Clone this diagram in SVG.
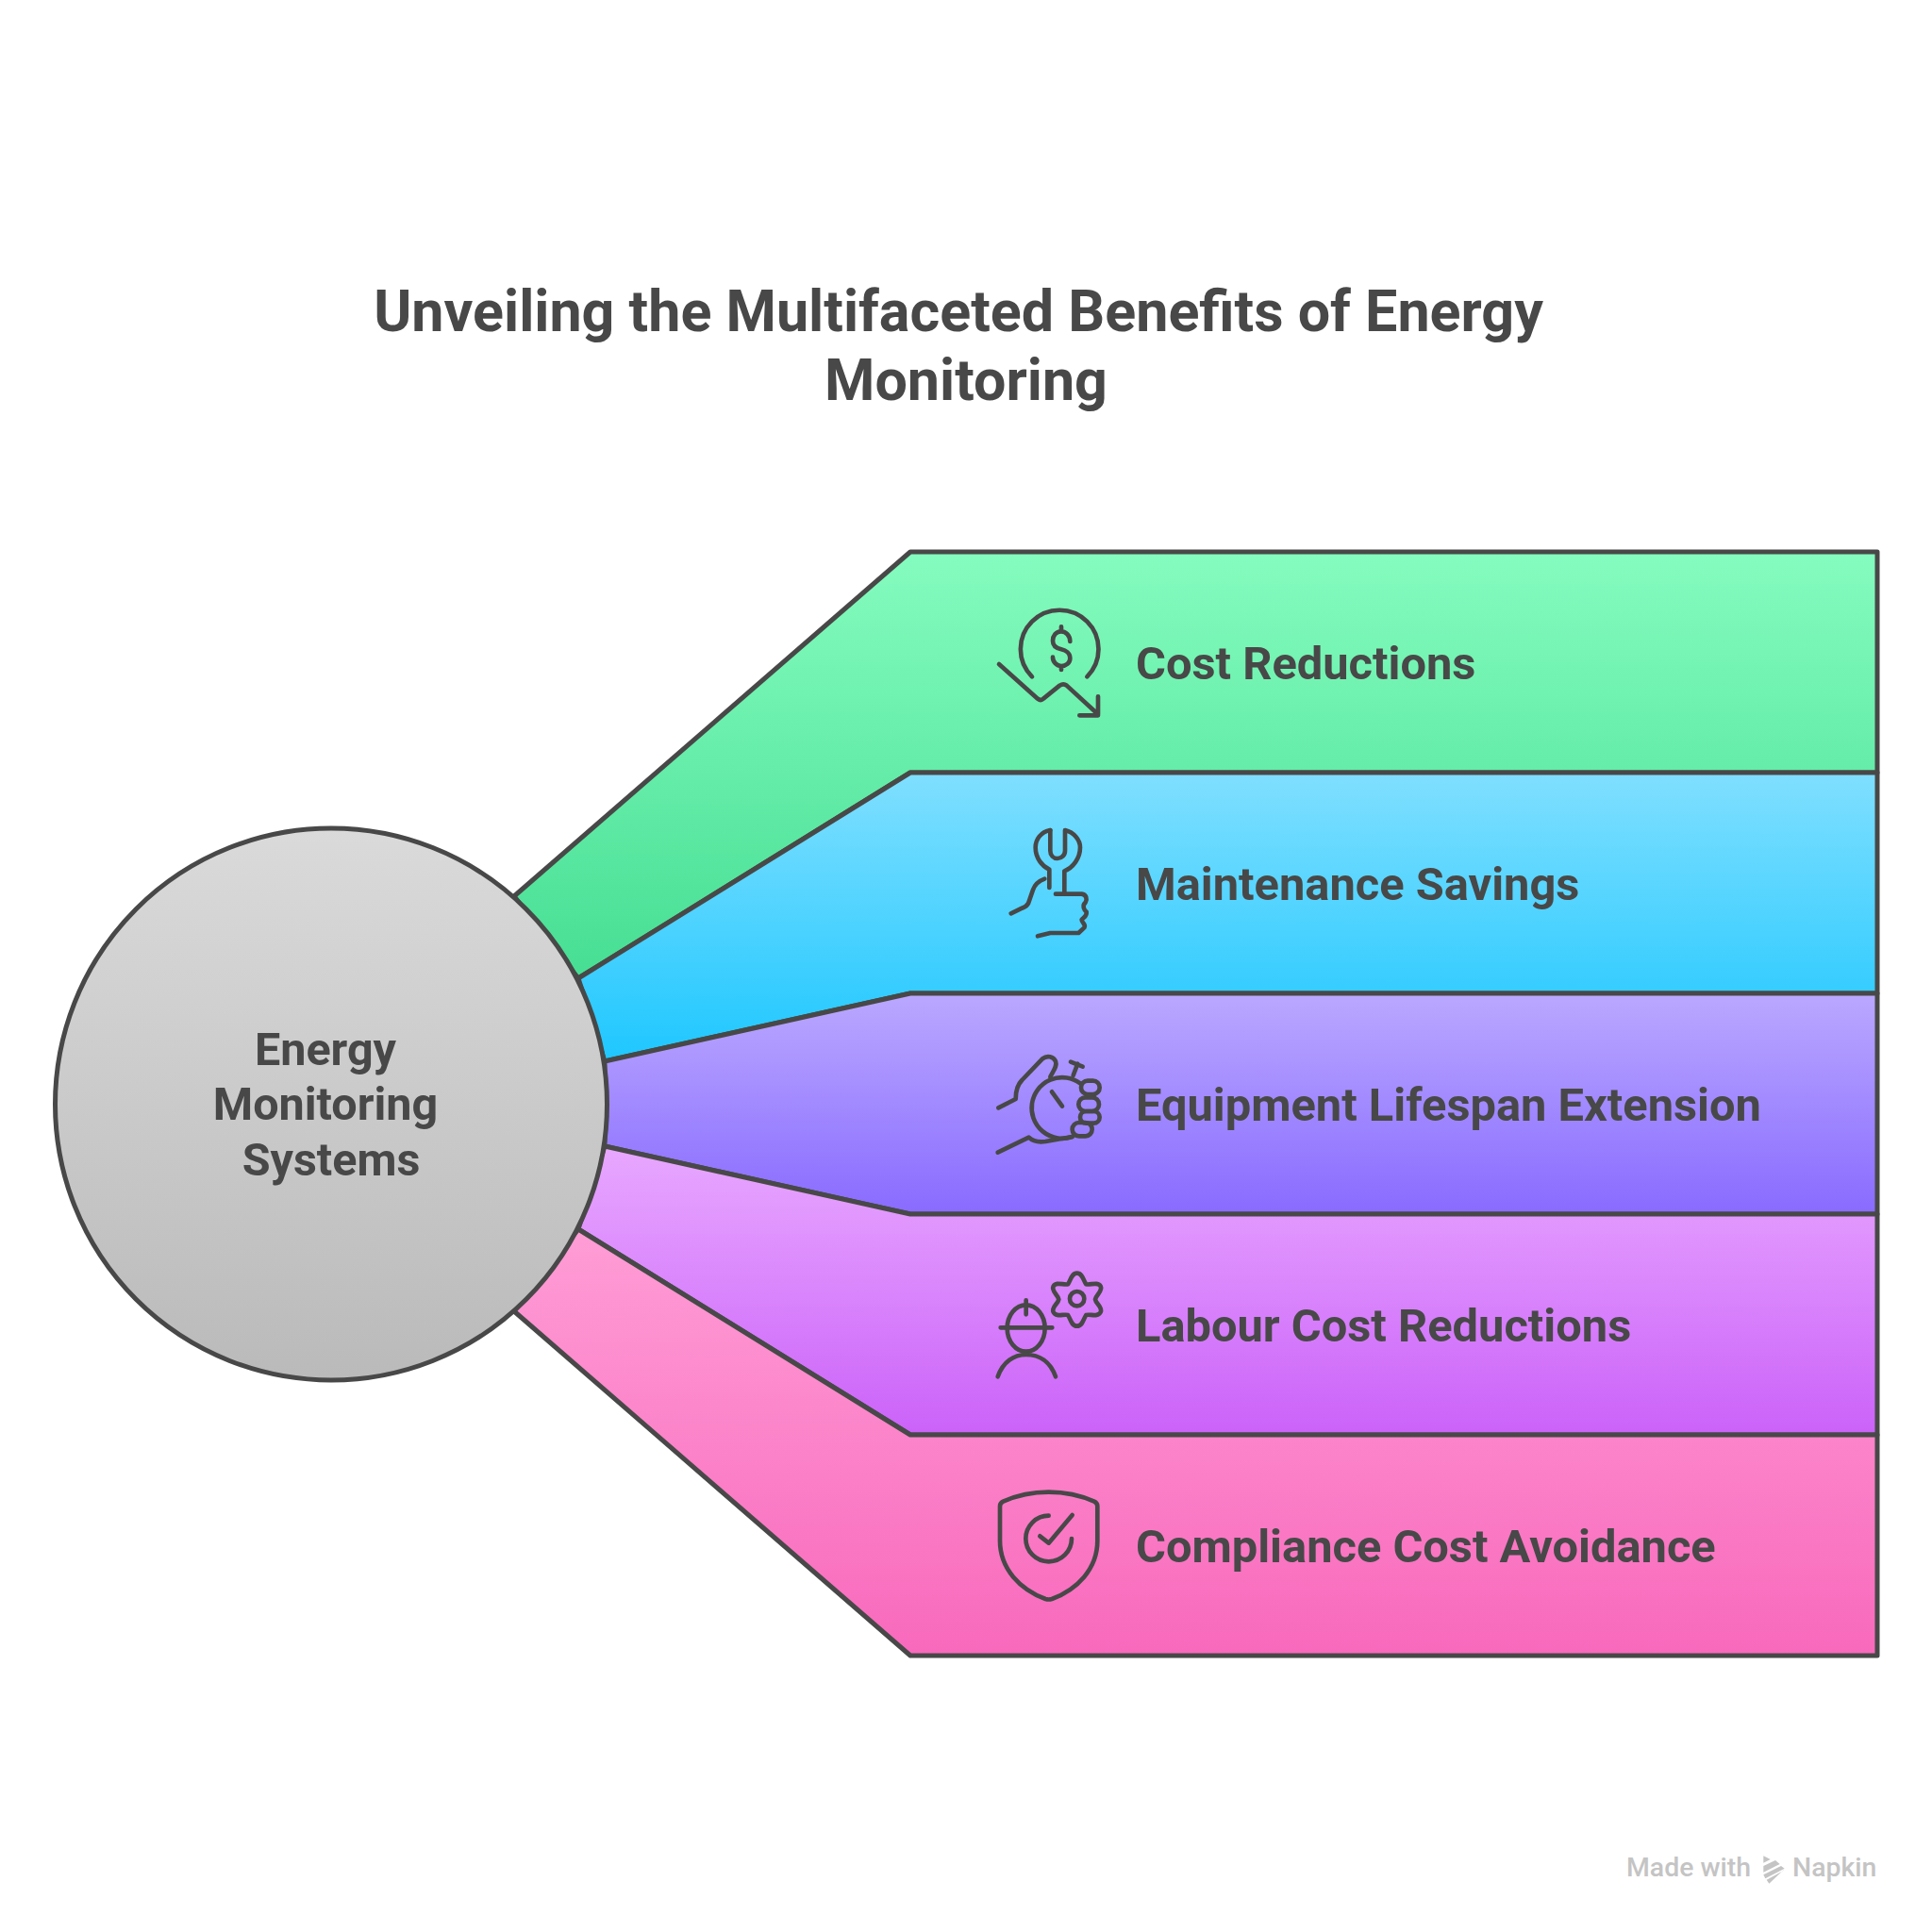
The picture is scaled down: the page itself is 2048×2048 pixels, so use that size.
<svg xmlns="http://www.w3.org/2000/svg" width="2048" height="2048" viewBox="0 0 2048 2048">
<style>
text{font-family:Roboto,"Liberation Sans",sans-serif;font-weight:700;fill:#484848}
.title{font-size:61px;text-anchor:middle}
.label{font-size:48.8px}
.hub{font-size:48.5px;text-anchor:middle}
.band{stroke:#484848;stroke-width:5;stroke-linejoin:round}
.icon{fill:none;stroke:#484848;stroke-width:14;stroke-linecap:round;stroke-linejoin:round}
.brand{font-size:28.4px;font-weight:500;fill:#c4c4c4}
</style>
<defs>
<linearGradient id="g1" x1="0" y1="0" x2="0" y2="1"><stop offset="0" stop-color="#85FCBF"/><stop offset="1" stop-color="#46DE93"/></linearGradient>
<linearGradient id="g2" x1="0" y1="0" x2="0" y2="1"><stop offset="0" stop-color="#80DFFF"/><stop offset="1" stop-color="#1EC7FF"/></linearGradient>
<linearGradient id="g3" x1="0" y1="0" x2="0" y2="1"><stop offset="0" stop-color="#BAA8FF"/><stop offset="1" stop-color="#896BFF"/></linearGradient>
<linearGradient id="g4" x1="0" y1="0" x2="0" y2="1"><stop offset="0" stop-color="#E8A8FF"/><stop offset="1" stop-color="#CB62F9"/></linearGradient>
<linearGradient id="g5" x1="0" y1="0" x2="0" y2="1"><stop offset="0" stop-color="#FF9DD6"/><stop offset="1" stop-color="#F869BC"/></linearGradient>
<linearGradient id="g0" x1="0" y1="0" x2="0" y2="1"><stop offset="0" stop-color="#DADADA"/><stop offset="1" stop-color="#BABABA"/></linearGradient>
</defs>
<rect width="2048" height="2048" fill="#ffffff"/>
<g id="title">
<text class="title" x="1016" y="351">Unveiling the Multifaceted Benefits of Energy</text>
<text class="title" x="1024" y="424">Monitoring</text>
</g>
<g id="connectors"></g>
<g id="band-cost">
<path class="band" fill="url(#g1)" d="M545,950L965,585H1990V819H965L613,1037Z"/>
<g class="icon" transform="translate(1040,630) scale(.3333)">
<path d="M162,262A124,124 0 1 1 337,262"/>
<path d="M255,103V118M255,228V240M283,150C283,132 270,118 255,118C238,118 228,132 228,148C228,165 240,172 255,175C270,178 283,188 283,203C283,218 270,228 255,228C240,228 228,215 228,200"/>
<path d="M57,222L180,332Q190,340 198,332L250,290Q262,282 272,290L372,382M372,325V385H313"/>
</g>
<text class="label" x="1204" y="719.500">Cost Reductions</text>
</g>
<g id="band-maintenance">
<path class="band" fill="url(#g2)" d="M613,1037L965,819H1990V1053H965L641,1125Z"/>
<g class="icon" transform="translate(1050,865) scale(.3333)">
<path d="M190,45C160,50 143,75 143,100C143,135 165,160 187,170V228"/>
<path d="M190,45V110C190,125 200,135 213,135C226,135 237,125 237,110V45C265,52 285,75 285,100C285,135 262,165 235,175V245"/>
<path d="M207,248H290C305,250 308,265 302,275C290,285 298,300 305,305C308,318 295,322 290,330C290,340 305,345 298,355L280,372H190L150,382"/>
<path d="M172,200C150,208 140,220 135,235L120,278C115,288 108,290 100,293L65,310"/>
</g>
<text class="label" x="1204" y="953.500">Maintenance Savings</text>
</g>
<g id="band-equipment">
<path class="band" fill="url(#g3)" d="M641,1125L965,1053H1990V1287H965L641,1215Z"/>
<g class="icon" transform="translate(1045,1105) scale(.3333)">
<path d="M40,208L95,180C95,160 100,135 115,120L180,52C195,40 215,45 222,60C228,75 215,90 205,110"/>
<path d="M300,130A97,97 0 1 0 275,300"/>
<path d="M278,105L292,68M270,62L308,77M210,157L243,203"/>
<rect x="303" y="122" width="59" height="43" rx="21"/>
<rect x="295" y="175" width="65" height="44" rx="22"/>
<rect x="300" y="219" width="62" height="38" rx="19"/>
<rect x="275" y="255" width="63" height="43" rx="21"/>
<path d="M38,350L137,302C150,315 170,318 190,315L275,300"/>
</g>
<text class="label" x="1204" y="1187.500">Equipment Lifespan Extension</text>
</g>
<g id="band-labour">
<path class="band" fill="url(#g4)" d="M641,1215L965,1287H1990V1521H965L613,1303Z"/>
<g class="icon" transform="translate(1045,1340) scale(.3333)">
<path d="M261,64C270,52 272,29 290,29C308,29 310,52 319,64C332,68 356,54 365,70C373,86 350,98 348,112C350,126 373,138 365,153C356,170 332,158 319,162C310,175 308,197 290,197C272,197 270,175 261,162C248,158 224,170 215,153C207,138 230,126 232,112C230,98 207,86 215,70C224,54 248,68 261,64Z"/>
<circle cx="290" cy="110" r="23"/>
<ellipse cx="128" cy="204" rx="60" ry="74"/>
<path d="M47,202H211M128,115V160"/>
<path d="M38,358C55,310 90,288 128,288C170,288 205,310 222,358"/>
</g>
<text class="label" x="1204" y="1421.500">Labour Cost Reductions</text>
</g>
<g id="band-compliance">
<path class="band" fill="url(#g5)" d="M613,1303L965,1521H1990V1755H965L545,1390Z"/>
<g class="icon" transform="translate(1045,1570) scale(.3333)">
<path d="M200,35C150,35 100,45 55,65Q45,70 45,80V190C45,280 110,345 190,375Q200,378 210,375C290,345 355,280 355,190V80Q355,70 345,65C300,45 250,35 200,35Z"/>
<path d="M200,110A73,73 0 1 0 273,183"/>
<path d="M172,175L200,197L275,108"/>
</g>
<text class="label" x="1204" y="1655.500">Compliance Cost Avoidance</text>
</g>
<g id="hub">
<circle cx="351" cy="1170.500" r="292.500" fill="url(#g0)" stroke="#484848" stroke-width="5"/>
<text class="hub" x="345" y="1129">Energy</text>
<text class="hub" x="345" y="1187">Monitoring</text>
<text class="hub" x="351" y="1246">Systems</text>
</g>
<g id="brand">
<text class="brand" x="1724" y="1989">Made with</text>
<g fill="#c4c4c4" transform="translate(1710,1950) scale(.3333)">
<path d="M478,52L500,63L478,74Z"/>
<path d="M478,84L516,66L530,78L478,104Z"/>
<path d="M478,112L534,84L545,92L484,124Z"/>
<path d="M496,140L488,128L540,100L545,94Z"/>
</g>
<text class="brand" x="1900" y="1989">Napkin</text>
</g>
</svg>
